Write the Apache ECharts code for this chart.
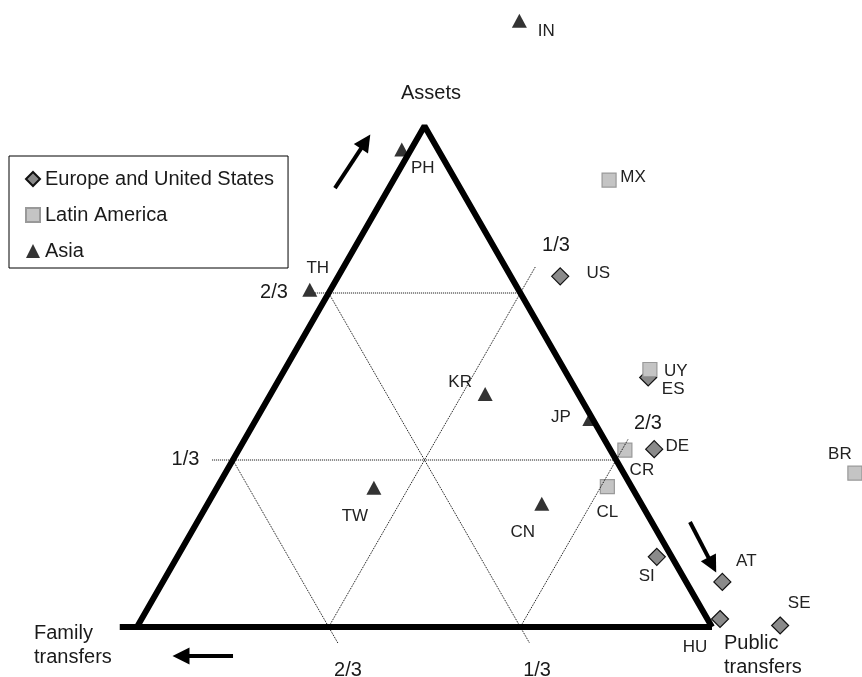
<!DOCTYPE html>
<html>
<head>
<meta charset="utf-8">
<script src="https://cdn.jsdelivr.net/npm/echarts@6/dist/echarts.min.js"></script>
<style>
  html, body { margin: 0; padding: 0; background: #fff; }
  #chart { width: 862px; height: 677px; }
</style>
</head>
<body>
<div id="chart"></div>
<script>
// Composition of old-age consumption financing: shares from assets,
// public transfers and family transfers (each row sums to 1).
const europeCodes  = ['US', 'ES', 'DE', 'SI', 'AT', 'SE', 'HU'];
const europeAssets = [0.700, 0.498, 0.355, 0.140, 0.090, 0.003, 0.016];
const europePublic = [0.386, 0.640, 0.722, 0.834, 0.973, 1.117, 1.006];
const europeFamily = [-0.086, -0.138, -0.077, 0.026, -0.063, -0.120, -0.022];

const latamCodes  = ['MX', 'UY', 'CR', 'CL', 'BR'];
const latamAssets = [0.892, 0.514, 0.353, 0.280, 0.307];
const latamPublic = [0.375, 0.635, 0.672, 0.678, 1.095];
const latamFamily = [-0.267, -0.149, -0.025, 0.042, -0.402];

const asiaCodes  = ['IN', 'PH', 'TH', 'KR', 'JP', 'TW', 'CN'];
const asiaAssets = [1.210, 0.953, 0.673, 0.465, 0.415, 0.278, 0.246];
const asiaPublic = [0.060, -0.016, -0.036, 0.373, 0.580, 0.273, 0.581];
const asiaFamily = [-0.270, 0.063, 0.363, 0.162, 0.005, 0.449, 0.173];

const groupNames = ['Europe and United States', 'Latin America', 'Asia'];

// Guide lines sit at thirds of each share
const fractionText = ['1/3', '2/3'];

// Ternary -> planar frame: base runs 0..1 (family -> public), apex at height 1 (assets)
const toXY = (a, p) => [p + a / 2, a];

// Label offsets for country codes (pixels from the marker centre)
const labelOffset = {
  US: [38, -3], ES: [25, 12], DE: [23, -3], SI: [-10, 19], AT: [24, -21], SE: [19, -22], HU: [-25, 28],
  MX: [24, -3], UY: [26, 2], CR: [17, 20], CL: [0, 26], BR: [-15, -19],
  IN: [27, 11], PH: [21, 19], TH: [8, -22], KR: [-25, -12], JP: [-29, -2], TW: [-19, 29], CN: [-19, 29]
};

function pointData(codes, assets, pub) {
  return codes.map((c, i) => ({
    name: c,
    value: toXY(assets[i], pub[i]),
    label: { offset: labelOffset[c] }
  }));
}

const FONT = '"Liberation Sans", Arial, Helvetica, sans-serif';

// Dotted guide lines (constant share = 1/3, 2/3), slightly extended past the sides
const guides = [
  [toXY(2 / 3, -0.024), toXY(2 / 3, 1 / 3)],          // assets = 2/3
  [toXY(1 / 3, -0.036), toXY(1 / 3, 2 / 3)],          // assets = 1/3
  [toXY(2 / 3, 0), toXY(-0.032, 2 / 3 + 0.032)],      // family = 1/3
  [toXY(1 / 3, 0), toXY(-0.032, 1 / 3 + 0.032)],      // family = 2/3
  [toXY(0, 1 / 3), toXY(0.72, 1 / 3)],                // public = 1/3
  [toXY(0, 2 / 3), toXY(0.375, 2 / 3)]                // public = 2/3
];

// Direction arrows in the planar frame (end point = centre of the arrow head)
const arrows = [
  [[0.3443, 0.8762], [0.3976, 0.9687]],
  [[0.9617, 0.2096], [1.0005, 0.1240]],
  [[0.1670, -0.0579], [0.0765, -0.0579]]
];

// Text annotations in the planar frame
const notes = [
  { text: 'Assets', pos: [0.5113, 1.0659], align: 'center' },
  { text: 'Family\ntransfers', pos: [-0.1791, -0.0369], align: 'left' },
  { text: 'Public\ntransfers', pos: [1.0209, -0.0569], align: 'left' },
  { text: fractionText[1], pos: [0.2383, 0.6667], align: 'center' },
  { text: fractionText[0], pos: [0.0843, 0.3353], align: 'center' },
  { text: fractionText[0], pos: [0.7287, 0.7625], align: 'center' },
  { text: fractionText[1], pos: [0.8887, 0.4072], align: 'center' },
  { text: fractionText[1], pos: [0.3670, -0.0858], align: 'center' },
  { text: fractionText[0], pos: [0.6957, -0.0858], align: 'center' }
];

const countryLabel = {
  show: true,
  position: 'inside',
  formatter: '{b}',
  color: '#222',
  fontSize: 17,
  fontFamily: FONT
};

const series = [];

guides.forEach(g => series.push({
  type: 'line', data: g, showSymbol: false, silent: true, z: 4,
  lineStyle: { color: '#000', width: 1, type: [1, 1] }
}));

// Triangle sides
series.push({
  type: 'line', silent: true, showSymbol: false, z: 6,
  data: [toXY(0, 0), toXY(1, 0), toXY(0, 1)],
  lineStyle: { color: '#000', width: 6, join: 'bevel', cap: 'butt' }
});
// Base line, extended to the left
series.push({
  type: 'line', silent: true, showSymbol: false, z: 6,
  data: [toXY(0, -0.03), toXY(0, 1)],
  lineStyle: { color: '#000', width: 6, cap: 'butt' }
});

series.push({
  name: groupNames[0], type: 'scatter', symbol: 'diamond', symbolSize: 17, z: 2,
  itemStyle: { color: '#8a8a8a', borderColor: '#111', borderWidth: 1.2, opacity: 1 },
  label: countryLabel,
  data: pointData(europeCodes, europeAssets, europePublic)
});
series.push({
  name: groupNames[1], type: 'scatter', symbol: 'rect', symbolSize: 14, z: 3,
  itemStyle: { color: '#c4c4c4', borderColor: '#999', borderWidth: 1.2, opacity: 1 },
  label: countryLabel,
  data: pointData(latamCodes, latamAssets, latamPublic)
});
series.push({
  name: groupNames[2], type: 'scatter', symbol: 'triangle', symbolSize: [15, 14], z: 3,
  itemStyle: { color: '#333', opacity: 1 },
  label: countryLabel,
  data: pointData(asiaCodes, asiaAssets, asiaPublic)
});

series.push({
  type: 'lines', coordinateSystem: 'cartesian2d', silent: true, z: 6,
  symbol: ['none', 'triangle'], symbolSize: [15, 17],
  lineStyle: { color: '#000', width: 4, opacity: 1 },
  data: arrows.map(c => ({ coords: c }))
});

series.push({
  type: 'scatter', silent: true, symbolSize: 0, z: 7,
  itemStyle: { opacity: 1 },
  data: notes.map(n => ({
    value: n.pos,
    label: {
      show: true, position: 'inside', formatter: n.text, align: n.align,
      verticalAlign: 'middle', color: '#1a1a1a', fontSize: 20, lineHeight: 24, fontFamily: FONT
    }
  }))
});

const chart = echarts.init(document.getElementById('chart'), null, { renderer: 'canvas' });
chart.setOption({
  animation: false,
  backgroundColor: '#fff',
  grid: { left: 0, right: 0, top: 0, bottom: 0 },
  xAxis: { type: 'value', min: -0.23826, max: 1.26087, show: false },
  yAxis: { type: 'value', min: -0.0998, max: 1.2515, show: false },
  legend: {
    data: groupNames,
    orient: 'vertical', left: 9, top: 156,
    padding: [12, 14, 6, 16], itemGap: 14,
    itemWidth: 14, itemHeight: 14,
    borderColor: '#000', borderWidth: 1,
    selectedMode: false,
    textStyle: { fontSize: 20, lineHeight: 22, color: '#1a1a1a', fontFamily: FONT }
  },
  series: series
});
</script>
</body>
</html>
